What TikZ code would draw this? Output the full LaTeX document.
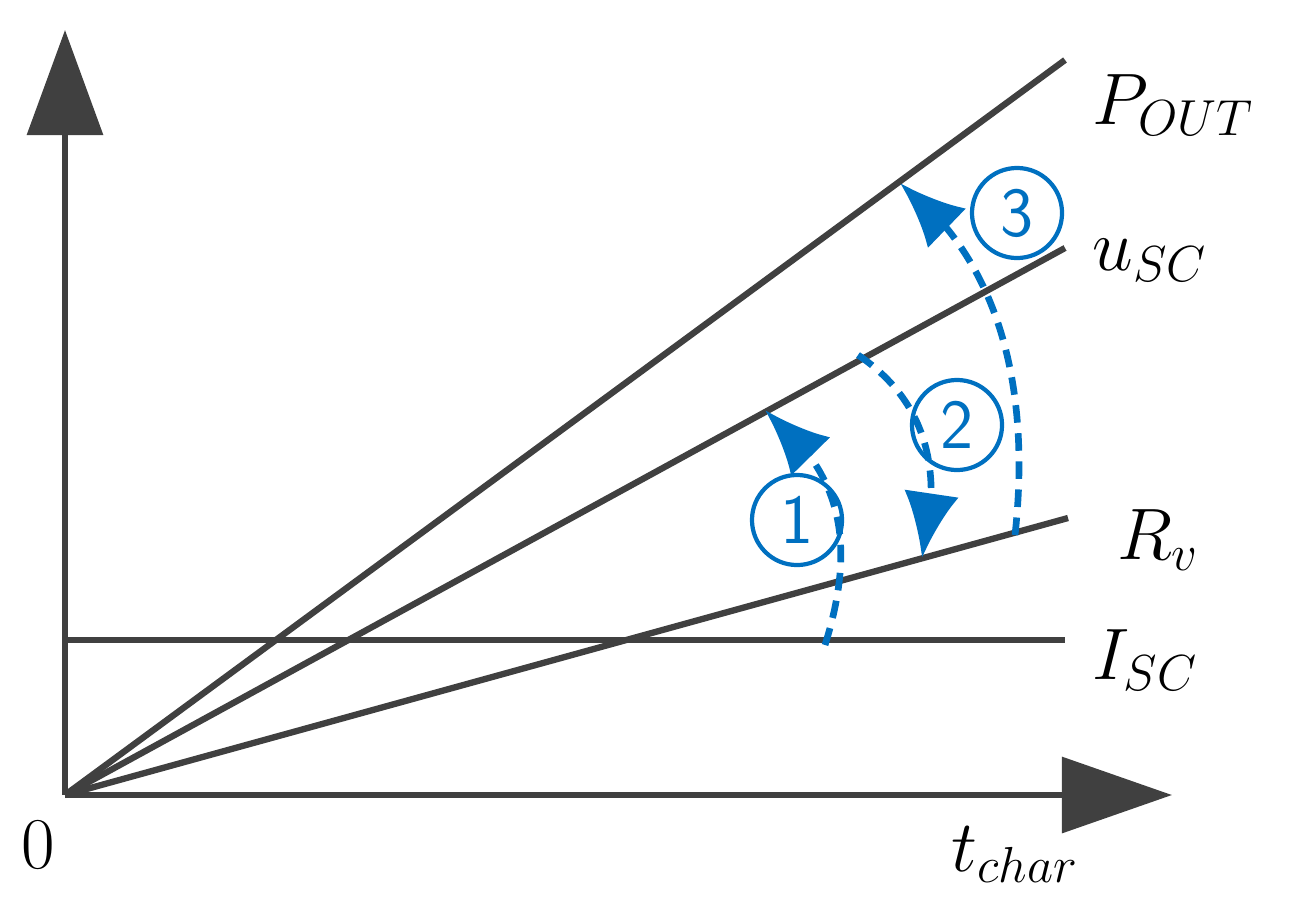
\documentclass[tikz,border=0pt]{standalone}
\usepackage{tikz}
\usetikzlibrary{arrows.meta,bending}
\definecolor{axisgray}{RGB}{64,64,64}
\definecolor{stepblue}{RGB}{0,112,192}
\tikzset{
  curve/.style={line width=1.8pt, color=axisgray},
  transition/.style={line width=1.9pt, color=stepblue, dash pattern=on 5pt off 3pt,
    -{Latex[length=6.5mm,width=5.5mm,flex]}},
  steplabel/.style={circle, draw=stepblue, line width=1.2pt, text=stepblue,
    inner sep=0.6pt, minimum size=9mm, font=\sffamily\fontsize{20}{20}\selectfont},
  curvelabel/.style={anchor=west, font=\fontsize{21}{21}\selectfont}
}
\begin{document}
\begin{tikzpicture}[x=0.01cm,y=-0.01cm]
  \useasboundingbox (0,0) rectangle (1292,909);

  % axes
  \coordinate (O) at (65,795);
  \coordinate (ytip) at (65,30);
  \coordinate (xtip) at (1172,795);
  \draw[curve, -{Triangle[length=10.5mm,width=7.5mm]}] (O) -- (ytip);
  \draw[curve, -{Triangle[length=11mm,width=7.5mm]}] (O) -- (xtip);
  \node (zero) at (38,845) {\fontsize{21}{21}\selectfont $0$};
  \node (tchar) at (1015,855) {\fontsize{21}{21}\selectfont $t_{char}$};

  % characteristic lines
  \coordinate (pend) at (1065,60);
  \coordinate (uend) at (1065,248);
  \coordinate (rend) at (1068,518);
  \coordinate (istart) at (65,640);
  \coordinate (iend) at (1065,640);
  \draw[curve] (O) -- (pend);
  \draw[curve] (O) -- (uend);
  \draw[curve] (O) -- (rend);
  \draw[curve] (istart) -- (iend);

  % labels
  \node[curvelabel] (pout) at (1080,105) {$P_{OUT}$};
  \node[curvelabel] (usc) at (1080,260) {$u_{SC}$};
  \node[curvelabel] (rv) at (1105,540) {$R_{v}$};
  \node[curvelabel] (isc) at (1080,660) {$I_{SC}$};

  % transition steps
  \coordinate (s1a) at (825,645);
  \coordinate (s1b) at (765,410);
  \coordinate (s2a) at (858,355);
  \coordinate (s2b) at (922,558);
  \coordinate (s3a) at (1015,535);
  \coordinate (s3b) at (900,183);
  \draw[transition] (s1a) .. controls (858,540) and (840,470) .. (s1b);
  \draw[transition] (s2a) .. controls (925,400) and (945,470) .. (s2b);
  \draw[transition] (s3a) .. controls (1032,380) and (995,255) .. (s3b);

  \node[steplabel] (n1) at (797,520) {1};
  \node[steplabel] (n2) at (957,425) {2};
  \node[steplabel] (n3) at (1017,213) {3};
\end{tikzpicture}
\end{document}
